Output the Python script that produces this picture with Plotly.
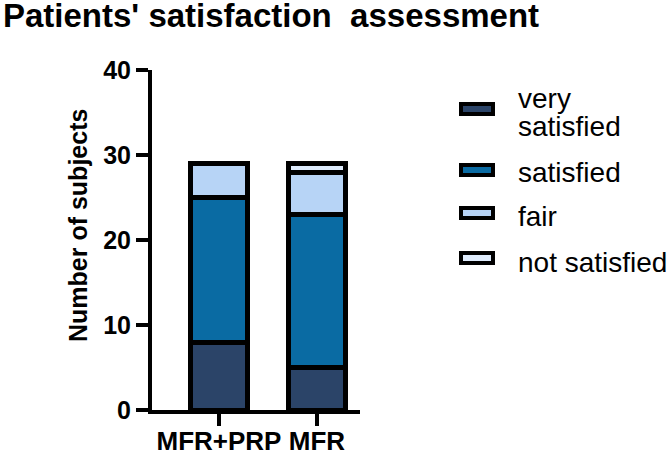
import plotly.graph_objects as go

categories = ["MFR+PRP", "MFR"]
series_names = ["very satisfied", "satisfied", "fair", "not satisfied"]
very_satisfied = [8, 5]
satisfied = [17, 18]
fair = [4, 5]
not_satisfied = [0, 1]
y_ticks = [0, 10, 20, 30, 40]

colors = ["#2b4468", "#0a6ba3", "#b7d4f6", "#deebfc"]
values = [very_satisfied, satisfied, fair, not_satisfied]

W, H = 669, 455
L, R, T, B = 152, 309, 70, 45
PW, PH = W - L - R, H - T - B
FONT = "Liberation Sans, Arial, sans-serif"

def px_x(p):
    return (p - L) / PW

def px_y(p):
    return (H - B - p) / PH

fig = go.Figure()
for name, vals, col in zip(series_names, values, colors):
    fig.add_trace(go.Bar(
        x=categories, y=vals, name=name,
        marker=dict(color=col, line=dict(color="black", width=5)),
        width=0.59, showlegend=False,
    ))

fig.update_layout(
    barmode="stack",
    width=W, height=H,
    margin=dict(l=L, r=R, t=T, b=B, pad=0, autoexpand=False),
    plot_bgcolor="white", paper_bgcolor="white",
    font=dict(family=FONT, color="black"),
)
fig.update_xaxes(
    range=[-0.684, 1.44], showline=True, linewidth=4, linecolor="black",
    ticks="outside", ticklen=12, tickwidth=4, tickcolor="black",
    tickfont=dict(size=26, family=FONT, weight="bold"), ticklabelstandoff=-7,
    showgrid=False, zeroline=False, automargin=False,
)
fig.update_yaxes(
    range=[0, 40], tickvals=y_ticks, showline=True, linewidth=4, linecolor="black",
    ticks="outside", ticklen=12, tickwidth=4, tickcolor="black",
    tickfont=dict(size=25, family=FONT, weight="bold"),
    showgrid=False, zeroline=False, automargin=False,
)

annotations = [
    dict(text="Patients' satisfaction \u00a0assessment", xref="paper", yref="paper",
         x=px_x(1), y=px_y(16), xanchor="left", yanchor="middle", showarrow=False,
         font=dict(size=33, family=FONT, weight="bold")),
    dict(text="Number of subjects", xref="paper", yref="paper",
         x=px_x(78), y=px_y(226), xanchor="center", yanchor="middle", showarrow=False,
         textangle=-90, font=dict(size=25, family=FONT, weight="bold")),
]

legend_rows = [
    (["very", "satisfied"], [98, 127], 109),
    (["satisfied"], [172], 170),
    (["fair"], [216], 213),
    (["not satisfied"], [262], 258),
]
shapes = []
for (lines, ys, box_y), col in zip(legend_rows, colors):
    shapes.append(dict(type="rect", xref="paper", yref="paper",
                       x0=px_x(461), x1=px_x(493), y0=px_y(box_y - 5), y1=px_y(box_y + 5),
                       fillcolor=col, line=dict(color="black", width=4)))
    for t, yy in zip(lines, ys):
        annotations.append(dict(text=t, xref="paper", yref="paper",
                                x=px_x(516), y=px_y(yy), xanchor="left", yanchor="middle",
                                showarrow=False, font=dict(size=28, family=FONT)))

fig.update_layout(annotations=annotations, shapes=shapes)
fig.write_html("out.html")
